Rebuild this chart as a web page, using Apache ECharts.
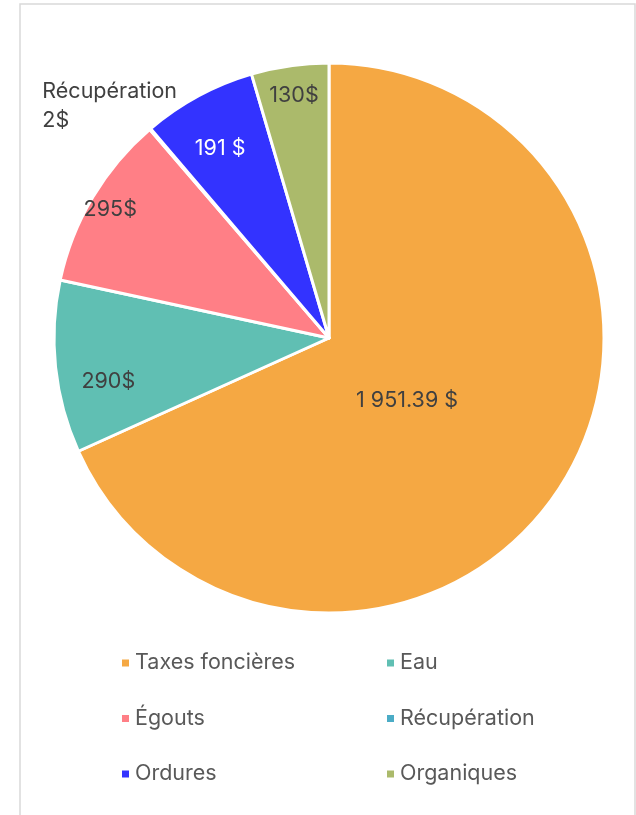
<!DOCTYPE html>
<html>
<head>
<meta charset="utf-8">
<script src="https://cdn.jsdelivr.net/npm/echarts@6/dist/echarts.min.js"></script>
<style>
html,body{margin:0;padding:0;background:#fff;}
#chart{width:636px;height:815px;}
</style>
</head>
<body>
<div id="chart"></div>
<script>
const categories = ['Taxes foncières', 'Eau', 'Égouts', 'Récupération', 'Ordures', 'Organiques'];
const values = [1951.39, 290, 295, 2, 191, 130];
const valueLabels = ['1 951.39 $', '290$', '295$', '2$', '191 $', '130$'];
const colors = ['#F5A843', '#60BFB3', '#FF7F86', '#4BACC6', '#3333FF', '#ABBA6B'];
const legendCol1 = ['Taxes foncières', 'Égouts', 'Ordures'];
const legendCol2 = ['Eau', 'Récupération', 'Organiques'];

// label styling per slice (offsets from the default inside position)
const labelOffsets = [[-40, -14], [-81, 29], [-98, -57], [-128, -125], [-42, -66], [-15, -103]];
const labelColors = ['#404040', '#404040', '#404040', '#404040', '#FFFFFF', '#404040'];

const FONT = 'Inter, "Noto Sans", sans-serif';
const FS = 21.5;

const data = categories.map((name, i) => {
  const item = {
    name: name,
    value: values[i],
    itemStyle: { color: colors[i] },
    label: {
      show: true,
      position: 'inside',
      offset: labelOffsets[i],
      color: labelColors[i],
      fontSize: FS,
      fontFamily: FONT,
      formatter: () => valueLabels[i]
    }
  };
  if (name === 'Récupération') {
    item.label.formatter = () => '{a|' + name + '}\n{b|' + valueLabels[i] + '}';
    item.label.align = 'left';
    item.label.rich = {
      a: { fontSize: FS, fontFamily: FONT, color: '#404040', lineHeight: 29, align: 'left' },
      b: { fontSize: FS, fontFamily: FONT, color: '#404040', lineHeight: 29, align: 'left' }
    };
  }
  return item;
});

const chart = echarts.init(document.getElementById('chart'), null, { renderer: 'canvas' });
const legendBase = {
  orient: 'vertical',
  top: 647,
  itemWidth: 9,
  itemHeight: 9,
  itemGap: 33.5,
  icon: 'rect',
  textStyle: { color: '#595959', fontSize: FS, fontFamily: FONT, lineHeight: 22, padding: [0, 0, 0, 0] }
};
chart.setOption({
  animation: false,
  graphic: [{
    type: 'rect',
    shape: { x: 20, y: 4, width: 615, height: 830 },
    style: { fill: 'none', stroke: '#D9D9D9', lineWidth: 1.5 },
    silent: true
  }],
  legend: [
    Object.assign({}, legendBase, { left: 115, data: legendCol1 }),
    Object.assign({}, legendBase, { left: 380, data: legendCol2 })
  ],
  series: [{
    type: 'pie',
    center: [329, 338],
    radius: 275,
    startAngle: 90,
    clockwise: true,
    avoidLabelOverlap: false,
    itemStyle: { borderColor: '#FFFFFF', borderWidth: 3 },
    labelLine: { show: false },
    emphasis: { disabled: true },
    data: data
  }]
});
</script>
</body>
</html>
